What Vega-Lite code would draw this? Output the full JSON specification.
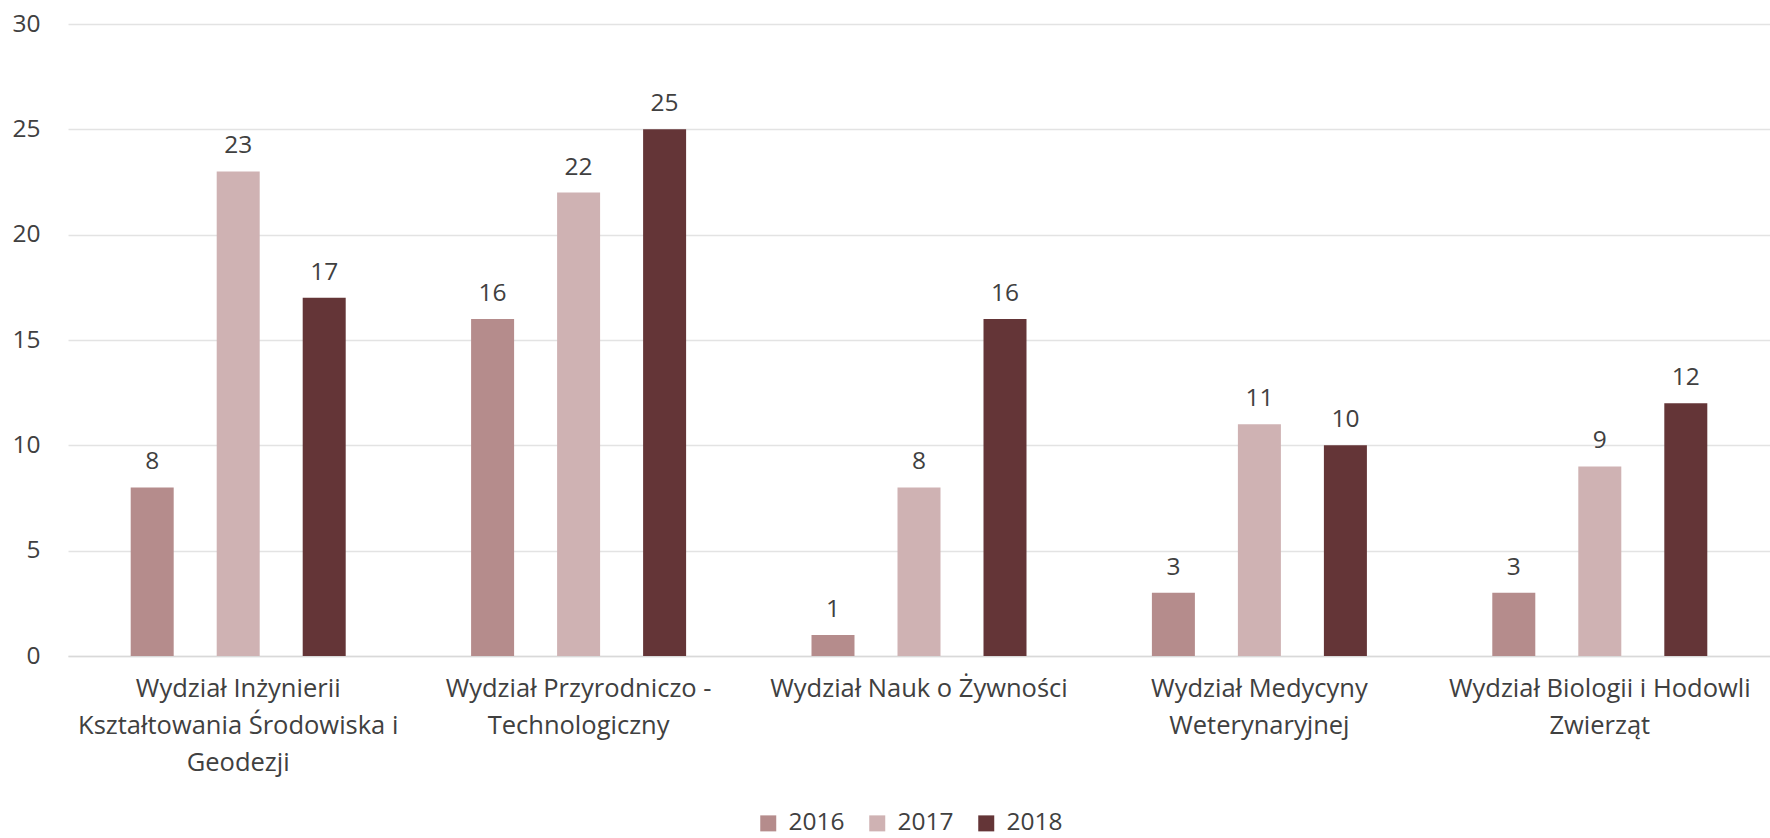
{
  "$schema": "https://vega.github.io/schema/vega-lite/v6.json",
  "autosize": {"type": "none"},
  "width": 1702,
  "height": 632,
  "padding": {"left": 68, "top": 24, "right": 0, "bottom": 182},
  "background": "white",
  "config": {
    "font": "Open Sans",
    "view": {"stroke": null},
    "axis": {"labelColor": "#404040", "labelFont": "Open Sans", "labelFontSize": 24.5},
    "legend": {"labelColor": "#404040", "labelFont": "Open Sans", "labelFontSize": 24.5}
  },
  "data": {
    "values": [
      {"wydzial": "Wydział Inżynierii Kształtowania Środowiska i Geodezji", "rok": "2016", "liczba": 8},
      {"wydzial": "Wydział Inżynierii Kształtowania Środowiska i Geodezji", "rok": "2017", "liczba": 23},
      {"wydzial": "Wydział Inżynierii Kształtowania Środowiska i Geodezji", "rok": "2018", "liczba": 17},
      {"wydzial": "Wydział Przyrodniczo - Technologiczny", "rok": "2016", "liczba": 16},
      {"wydzial": "Wydział Przyrodniczo - Technologiczny", "rok": "2017", "liczba": 22},
      {"wydzial": "Wydział Przyrodniczo - Technologiczny", "rok": "2018", "liczba": 25},
      {"wydzial": "Wydział Nauk o Żywności", "rok": "2016", "liczba": 1},
      {"wydzial": "Wydział Nauk o Żywności", "rok": "2017", "liczba": 8},
      {"wydzial": "Wydział Nauk o Żywności", "rok": "2018", "liczba": 16},
      {"wydzial": "Wydział Medycyny Weterynaryjnej", "rok": "2016", "liczba": 3},
      {"wydzial": "Wydział Medycyny Weterynaryjnej", "rok": "2017", "liczba": 11},
      {"wydzial": "Wydział Medycyny Weterynaryjnej", "rok": "2018", "liczba": 10},
      {"wydzial": "Wydział Biologii i Hodowli Zwierząt", "rok": "2016", "liczba": 3},
      {"wydzial": "Wydział Biologii i Hodowli Zwierząt", "rok": "2017", "liczba": 9},
      {"wydzial": "Wydział Biologii i Hodowli Zwierząt", "rok": "2018", "liczba": 12}
    ]
  },
  "encoding": {
    "x": {
      "field": "wydzial", "type": "nominal", "sort": null, "title": null,
      "scale": {"paddingInner": 0, "paddingOuter": 0},
      "axis": {
        "labelAngle": 0, "ticks": false, "domainColor": "#d9d9d9", "domainWidth": 1.5,
        "labelPadding": 20, "labelLineHeight": 37, "labelLimit": 400, "labelFontSize": 25.5,
        "labelExpr": "datum.label == 'Wydział Inżynierii Kształtowania Środowiska i Geodezji' ? ['Wydział Inżynierii', 'Kształtowania Środowiska i', 'Geodezji'] : datum.label == 'Wydział Przyrodniczo - Technologiczny' ? ['Wydział Przyrodniczo -', 'Technologiczny'] : datum.label == 'Wydział Medycyny Weterynaryjnej' ? ['Wydział Medycyny', 'Weterynaryjnej'] : datum.label == 'Wydział Biologii i Hodowli Zwierząt' ? ['Wydział Biologii i Hodowli', 'Zwierząt'] : datum.label"
      }
    },
    "xOffset": {"field": "rok", "type": "nominal", "scale": {"paddingInner": 0.5, "paddingOuter": 0.729}},
    "y": {
      "field": "liczba", "type": "quantitative", "title": null,
      "scale": {"domain": [0, 30], "nice": false},
      "axis": {"values": [0, 5, 10, 15, 20, 25, 30], "labelOverlap": false, "domain": false, "ticks": false, "labelPadding": 28, "gridColor": "#e3e3e3", "gridWidth": 1.5}
    }
  },
  "layer": [
    {
      "mark": {"type": "bar"},
      "encoding": {
        "color": {
          "field": "rok", "type": "nominal", "title": null,
          "scale": {"domain": ["2016", "2017", "2018"], "range": ["#B58C8C", "#CFB2B3", "#643537"]},
          "legend": {"orient": "none", "legendX": 688, "legendY": 787, "direction": "horizontal", "symbolType": "square", "symbolSize": 256, "symbolStrokeWidth": 0, "labelOffset": 8, "columnPadding": 20}
        }
      }
    },
    {
      "mark": {"type": "text", "baseline": "alphabetic", "dy": -18, "fontSize": 24.5, "color": "#404040", "font": "Open Sans"},
      "encoding": {"text": {"field": "liczba", "type": "quantitative"}}
    }
  ]
}
